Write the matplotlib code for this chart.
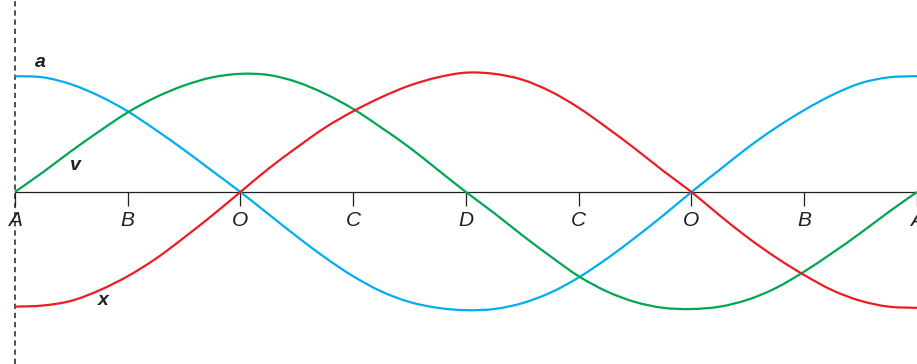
import matplotlib
matplotlib.use('Agg')
import matplotlib.pyplot as plt
from matplotlib.path import Path
from matplotlib.patches import PathPatch

# positions along the axis, in tick units (A=0 ... A=8), quarter steps
pos = [i * 0.25 for i in range(33)]

tick_pos = [0, 1, 2, 3, 4, 5, 6, 7, 8]
tick_labels = ['A', 'B', 'O', 'C', 'D', 'C', 'O', 'B', 'A']

# displacement x (red)
disp = [-0.98, -0.97, -0.93, -0.84, -0.72, -0.57, -0.39, -0.20, 0.00,
        0.20, 0.38, 0.55, 0.69, 0.81, 0.91, 0.98, 1.02,
        1.01, 0.96, 0.86, 0.72, 0.55, 0.37, 0.18, 0.00,
        -0.20, -0.39, -0.56, -0.71, -0.84, -0.93, -0.98, -0.99]

# velocity v (green)
vel = [0.00, 0.17, 0.35, 0.52, 0.68, 0.81, 0.91, 0.98, 1.01,
       1.00, 0.94, 0.84, 0.71, 0.55, 0.38, 0.19, 0.00,
       -0.18, -0.37, -0.55, -0.72, -0.85, -0.94, -0.99, -1.00,
       -0.98, -0.92, -0.82, -0.68, -0.52, -0.35, -0.17, 0.00]

# acceleration a (blue)
acc = [0.99, 0.98, 0.92, 0.82, 0.69, 0.53, 0.36, 0.18, 0.00,
       -0.19, -0.38, -0.56, -0.72, -0.85, -0.94, -0.99, -1.01,
       -1.00, -0.95, -0.86, -0.73, -0.57, -0.39, -0.20, 0.00,
       0.19, 0.38, 0.55, 0.70, 0.83, 0.93, 0.98, 0.99]

RED = '#ED1C24'
GREEN = '#00A651'
BLUE = '#00AEEF'
INK = '#231F20'


def smooth_path(xs, ys):
    # bezier segments through the read points (catmull-rom style handles)
    pts = list(zip(xs, ys))
    verts = [pts[0]]
    codes = [Path.MOVETO]
    n = len(pts)
    for i in range(n - 1):
        p0 = pts[max(i - 1, 0)]
        p1 = pts[i]
        p2 = pts[i + 1]
        p3 = pts[min(i + 2, n - 1)]
        c1 = (p1[0] + (p2[0] - p0[0]) / 6, p1[1] + (p2[1] - p0[1]) / 6)
        c2 = (p2[0] - (p3[0] - p1[0]) / 6, p2[1] - (p3[1] - p1[1]) / 6)
        verts += [c1, c2, p2]
        codes += [Path.CURVE4] * 3
    return Path(verts, codes)


plt.rcParams['font.family'] = ['Liberation Sans', 'DejaVu Sans']

fig = plt.figure(figsize=(9.17, 3.64), dpi=100)
ax = fig.add_axes([0, 0, 1, 1])

ax.axvline(0, color=INK, lw=1.1, ls=(0, (3.5, 2.5)), zorder=1)

for series, col in [(acc, BLUE), (vel, GREEN), (disp, RED)]:
    ax.add_patch(PathPatch(smooth_path(pos, series), fill=False,
                           edgecolor=col, lw=1.6, zorder=3,
                           capstyle='butt'))

ax.text(0.23, 1.11, 'a', fontsize=14, fontweight='bold', fontstyle='italic',
        ha='center', va='center', color=INK)
ax.text(0.54, 0.23, 'v', fontsize=14, fontweight='bold', fontstyle='italic',
        ha='center', va='center', color=INK)
ax.text(0.78, -0.93, 'x', fontsize=14, fontweight='bold', fontstyle='italic',
        ha='center', va='center', color=INK)

ax.set_xlim(-0.132, 7.96)
ax.set_ylim(-1.47, 1.641)

for s in ['top', 'right', 'left']:
    ax.spines[s].set_visible(False)
ax.spines['bottom'].set_position(('data', 0))
ax.spines['bottom'].set_bounds(0, 8)
ax.spines['bottom'].set_color(INK)
ax.spines['bottom'].set_linewidth(0.9)
ax.spines['bottom'].set_zorder(2)

ax.set_yticks([])
ax.set_xticks(tick_pos)
ax.set_xticklabels(tick_labels, fontsize=15, fontstyle='italic', color=INK)
ax.tick_params(axis='x', direction='out', length=10, width=0.9,
               color=INK, pad=4)
ax.patch.set_visible(False)

fig.savefig('out.png', dpi=100)
